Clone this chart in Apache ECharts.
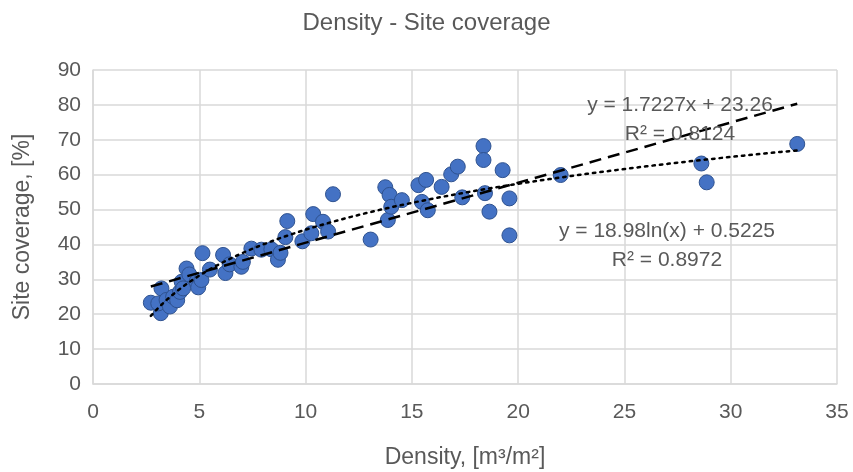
<!DOCTYPE html>
<html><head><meta charset="utf-8">
<script src="https://cdn.jsdelivr.net/npm/echarts@6/dist/echarts.min.js"></script>
<style>html,body{margin:0;padding:0;background:#fff}#c{width:853px;height:472px}</style>
</head><body><div id="c"></div>
<script>
var density = [2.72,3.19,3.22,3.07,3.46,3.62,3.77,3.96,4.09,4.17,4.24,4.4,4.53,4.87,4.95,5.1,5.15,5.5,6.12,6.23,6.43,6.98,7.05,7.45,7.92,8.39,8.7,8.82,9.05,9.14,9.85,10.27,10.36,10.82,11.06,11.29,13.06,13.75,13.95,13.87,14.03,14.53,15.31,15.67,15.47,15.75,16.4,16.85,17.16,17.37,18.37,18.37,18.44,18.65,19.27,19.59,19.59,22.0,28.62,28.87,33.13];
var coverage = [23.3,20.3,27.4,23.1,24.1,22.2,25,24,26.4,29.3,27.4,33.1,31.4,29.3,27.7,29.8,37.5,32.8,37,31.8,34.3,33.6,35,38.8,38.5,38.6,35.6,37.6,42.1,46.7,40.9,43.2,48.7,46.5,43.7,54.4,41.4,56.4,54.2,47,50.8,52.7,57,58.5,52.2,49.8,56.5,60.1,62.3,53.5,68.2,64.2,54.7,49.4,61.3,53.2,42.6,59.9,63.2,57.8,68.8];
var xTicks = [0,5,10,15,20,25,30,35];
var yTicks = [0,10,20,30,40,50,60,70,80,90];
var linFit = {slope:1.7227, intercept:23.26, eq:'y = 1.7227x + 23.26', r2:'R² = 0.8124'};
var logFit = {a:18.98, b:0.5225, eq:'y = 18.98ln(x) + 0.5225', r2:'R² = 0.8972'};

var pts = density.map(function(d,i){return [d, coverage[i]];});
var xmin = Math.min.apply(null, density), xmax = Math.max.apply(null, density);
var linLine = [[xmin, linFit.slope*xmin+linFit.intercept],[xmax, linFit.slope*xmax+linFit.intercept]];
var logLine = [];
for (var k=0;k<=120;k++){var x=xmin+(xmax-xmin)*k/120; logLine.push([x, logFit.a*Math.log(x)+logFit.b]);}

var F = '"Liberation Sans", Arial, sans-serif';
var TC = '#595959';
function lbl(t, x, y){
  return {type:'text', z:10, style:{text:t, x:x, y:y, align:'center', verticalAlign:'middle', font:'21px '+F, fill:TC}};
}
var chart = echarts.init(document.getElementById('c'));
chart.setOption({
  animation:false,
  title:{text:'Density - Site coverage', left:'center', top:6, textStyle:{fontFamily:F, fontSize:24, fontWeight:'normal', color:TC}},
  grid:{left:93, right:16, top:70, bottom:88, containLabel:false, outerBoundsMode:'none'},
  xAxis:{type:'value', min:0, max:35, interval:5,
    name:'Density, [m³/m²]', nameLocation:'middle', nameGap:62,
    nameTextStyle:{fontFamily:F, fontSize:23, color:TC},
    axisLine:{show:true, lineStyle:{color:'#d9d9d9', width:1.5}}, axisTick:{show:false},
    axisLabel:{fontFamily:F, fontSize:21, color:TC, margin:18},
    splitLine:{show:true, lineStyle:{color:'#d9d9d9', width:1.5}}},
  yAxis:{type:'value', min:0, max:90, interval:10,
    name:'Site coverage, [%]', nameLocation:'middle', nameGap:59,
    nameTextStyle:{fontFamily:F, fontSize:23, color:TC},
    axisLine:{show:true, lineStyle:{color:'#d9d9d9', width:1.5}}, axisTick:{show:false},
    axisLabel:{fontFamily:F, fontSize:21, color:TC, margin:12},
    splitLine:{show:true, lineStyle:{color:'#d9d9d9', width:1.5}}},
  series:[
    {type:'scatter', data:pts, symbolSize:15, z:3,
      itemStyle:{color:'#4472C4', borderColor:'#2F528F', borderWidth:1, opacity:1}},
    {type:'line', data:linLine, showSymbol:false, symbol:'none', z:4,
      lineStyle:{color:'#000', width:2.5, type:[12,7]}},
    {type:'line', data:logLine, showSymbol:false, symbol:'none', smooth:false, z:4,
      lineStyle:{color:'#000', width:2.5, type:[2.5,5], cap:'round'}}
  ],
  graphic:[
    lbl(linFit.eq, 680, 105), lbl(linFit.r2, 680, 134),
    lbl(logFit.eq, 667, 231), lbl(logFit.r2, 667, 260)
  ]
});
</script></body></html>
